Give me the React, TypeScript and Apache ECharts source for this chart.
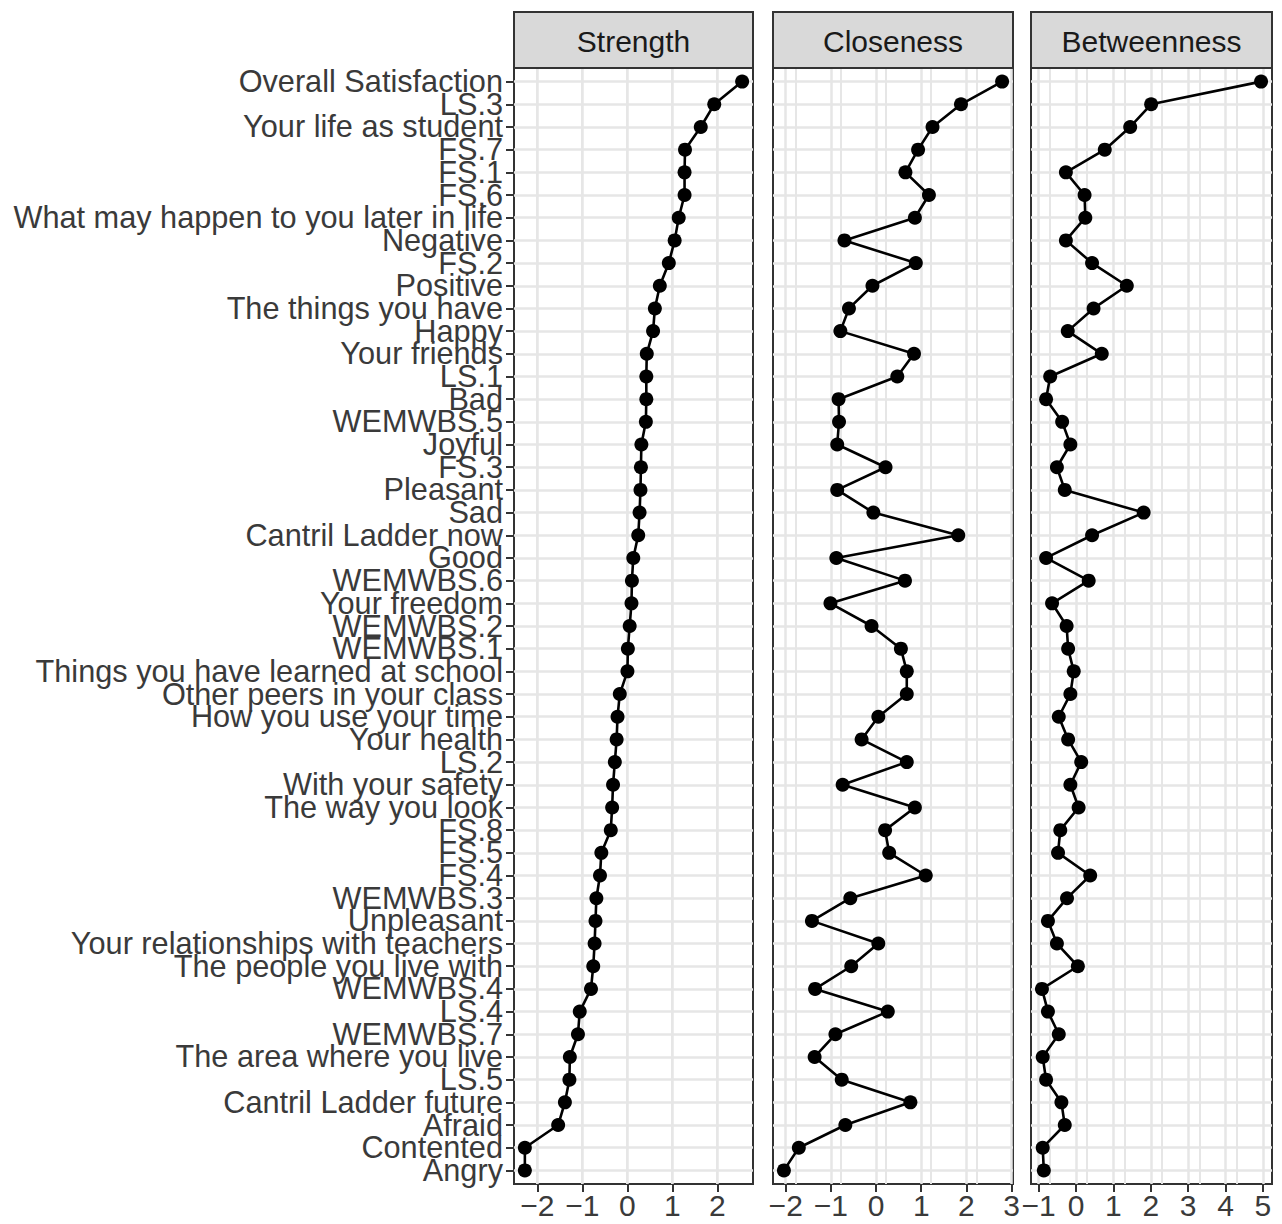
import React, { useEffect, useRef } from "react";
import * as echarts from "echarts";

const items = [
  "Overall Satisfaction",
  "LS.3",
  "Your life as student",
  "FS.7",
  "FS.1",
  "FS.6",
  "What may happen to you later in life",
  "Negative",
  "FS.2",
  "Positive",
  "The things you have",
  "Happy",
  "Your friends",
  "LS.1",
  "Bad",
  "WEMWBS.5",
  "Joyful",
  "FS.3",
  "Pleasant",
  "Sad",
  "Cantril Ladder now",
  "Good",
  "WEMWBS.6",
  "Your freedom",
  "WEMWBS.2",
  "WEMWBS.1",
  "Things you have learned at school",
  "Other peers in your class",
  "How you use your time",
  "Your health",
  "LS.2",
  "With your safety",
  "The way you look",
  "FS.8",
  "FS.5",
  "FS.4",
  "WEMWBS.3",
  "Unpleasant",
  "Your relationships with teachers",
  "The people you live with",
  "WEMWBS.4",
  "LS.4",
  "WEMWBS.7",
  "The area where you live",
  "LS.5",
  "Cantril Ladder future",
  "Afraid",
  "Contented",
  "Angry",
];

const strength = [
  2.55, 1.93, 1.63, 1.28, 1.27, 1.27, 1.14, 1.05, 0.92, 0.72, 0.61, 0.57, 0.43,
  0.42, 0.42, 0.41, 0.31, 0.3, 0.29, 0.27, 0.24, 0.13, 0.1, 0.09, 0.05, 0.01,
  0.0, -0.17, -0.22, -0.24, -0.28, -0.32, -0.34, -0.37, -0.58, -0.61, -0.69,
  -0.71, -0.73, -0.76, -0.81, -1.06, -1.1, -1.28, -1.29, -1.39, -1.54, -2.28,
  -2.28,
];

const closeness = [
  2.79, 1.88, 1.25, 0.93, 0.65, 1.17, 0.86, -0.7, 0.88, -0.08, -0.6, -0.79, 0.84,
  0.47, -0.83, -0.82, -0.86, 0.21, -0.86, -0.06, 1.82, -0.88, 0.64, -1.01, -0.1,
  0.55, 0.68, 0.68, 0.05, -0.32, 0.68, -0.74, 0.86, 0.2, 0.29, 1.1, -0.57, -1.42,
  0.05, -0.55, -1.35, 0.26, -0.9, -1.36, -0.76, 0.76, -0.68, -1.71, -2.04,
];

const betweenness = [
  4.95, 2.01, 1.45, 0.77, -0.27, 0.23, 0.25, -0.27, 0.43, 1.36, 0.47, -0.22,
  0.69, -0.69, -0.8, -0.37, -0.15, -0.51, -0.3, 1.81, 0.43, -0.8, 0.34, -0.64,
  -0.25, -0.21, -0.06, -0.15, -0.46, -0.21, 0.14, -0.15, 0.07, -0.42, -0.48,
  0.38, -0.24, -0.75, -0.51, 0.05, -0.91, -0.75, -0.46, -0.89, -0.8, -0.39,
  -0.3, -0.89, -0.86,
];

const panelTitles = ["Strength", "Closeness", "Betweenness"];
const strengthTicks = [-2, -1, 0, 1, 2];
const closenessTicks = [-2, -1, 0, 1, 2, 3];
const betweennessTicks = [-1, 0, 1, 2, 3, 4, 5];

const FONT = "'Liberation Sans', Arial, Helvetica, sans-serif";

export default function App() {
  const ref = useRef<HTMLDivElement>(null);

  useEffect(() => {
    const chart = echarts.init(ref.current as HTMLDivElement, null, {
      renderer: "svg",
    });

    const top = 68;
    const height = 1116;
    const stripTop = 12;
    const panels = [
      { left: 514, width: 239, values: strength, ticks: strengthTicks },
      { left: 773, width: 240, values: closeness, ticks: closenessTicks },
      { left: 1031, width: 241, values: betweenness, ticks: betweennessTicks },
    ];

    const fmt = (v: number) => (v < 0 ? "\u2212" + Math.abs(v) : String(v));
    const allIdx = items.map((_, i) => i);
    const evenIdx = allIdx.filter((i) => i % 2 === 0);
    const oddIdx = allIdx.filter((i) => i % 2 === 1);

    const grids = panels.map((p) => ({
      left: p.left,
      top,
      width: p.width,
      height,
      show: true,
      borderColor: "#333",
      borderWidth: 2,
      backgroundColor: "transparent",
      containLabel: false,
    }));

    const xAxes = panels.map((p, i) => {
      const lo = Math.min(...p.values);
      const hi = Math.max(...p.values);
      const pad = (hi - lo) * 0.05;
      return {
        type: "value",
        gridIndex: i,
        position: "bottom",
        min: lo - pad,
        max: hi + pad,
        interval: 1,
        axisLine: { show: false, onZero: false },
        axisTick: {
          show: true,
          customValues: p.ticks,
          length: 8,
          lineStyle: { color: "#333", width: 2 },
        },
        axisLabel: {
          customValues: p.ticks,
          formatter: fmt,
          fontSize: 30,
          fontFamily: FONT,
          color: "#3a3a3a",
          margin: 6,
          showMinLabel: true,
          showMaxLabel: true,
        },
        splitLine: { show: true, lineStyle: { color: "#e6e6e6", width: 2.5 } },
        minorTick: { show: false, splitNumber: 2 },
        minorSplitLine: {
          show: true,
          lineStyle: { color: "#e6e6e6", width: 2 },
        },
      };
    });

    const makeY = (gridIndex: number, vals: number[], showLabels: boolean) => ({
      type: "value",
      gridIndex,
      position: "left",
      inverse: true,
      min: -0.6,
      max: items.length - 1 + 0.6,
      interval: 1,
      axisLine: { show: false, onZero: false },
      axisTick: {
        show: showLabels,
        customValues: vals,
        length: 8,
        lineStyle: { color: "#333", width: 2 },
      },
      axisLabel: {
        show: showLabels,
        customValues: vals,
        formatter: (v: number) => items[Math.round(v)] ?? "",
        fontSize: 30.7,
        fontFamily: FONT,
        color: "#3a3a3a",
        margin: 11,
        showMinLabel: true,
        showMaxLabel: true,
        hideOverlap: false,
      },
      splitLine: { show: true, lineStyle: { color: "#e6e6e6", width: 2.5 } },
    });

    const yAxes = [
      makeY(0, evenIdx, true),
      makeY(1, allIdx, false),
      makeY(2, allIdx, false),
      makeY(0, oddIdx, true),
    ];

    const series = panels.map((p, i) => ({
      type: "line",
      xAxisIndex: i,
      yAxisIndex: i,
      data: p.values.map((v, k) => [v, k]),
      symbol: "circle",
      symbolSize: 14,
      showSymbol: true,
      showAllSymbol: true,
      clip: false,
      itemStyle: { color: "#000" },
      lineStyle: { color: "#000", width: 2.6 },
      z: 3,
    }));

    const graphic: any[] = [];
    panels.forEach((p, i) => {
      graphic.push({
        type: "rect",
        shape: { x: p.left, y: stripTop, width: p.width, height: top - stripTop },
        style: { fill: "#d9d9d9", stroke: "#333", lineWidth: 2 },
        z: 10,
      });
      graphic.push({
        type: "text",
        x: p.left + p.width / 2,
        y: (stripTop + top) / 2 + 1,
        style: {
          text: panelTitles[i],
          fontSize: 30,
          fontFamily: FONT,
          fill: "#1a1a1a",
          align: "center",
          verticalAlign: "middle",
        },
        z: 11,
      });
    });

    chart.setOption({
      animation: false,
      backgroundColor: "#fff",
      grid: grids,
      xAxis: xAxes,
      yAxis: yAxes,
      series,
      graphic,
    });

    return () => chart.dispose();
  }, []);

  return (
    <div
      ref={ref}
      style={{ position: "fixed", left: 0, top: 0, width: 1282, height: 1224 }}
    />
  );
}
